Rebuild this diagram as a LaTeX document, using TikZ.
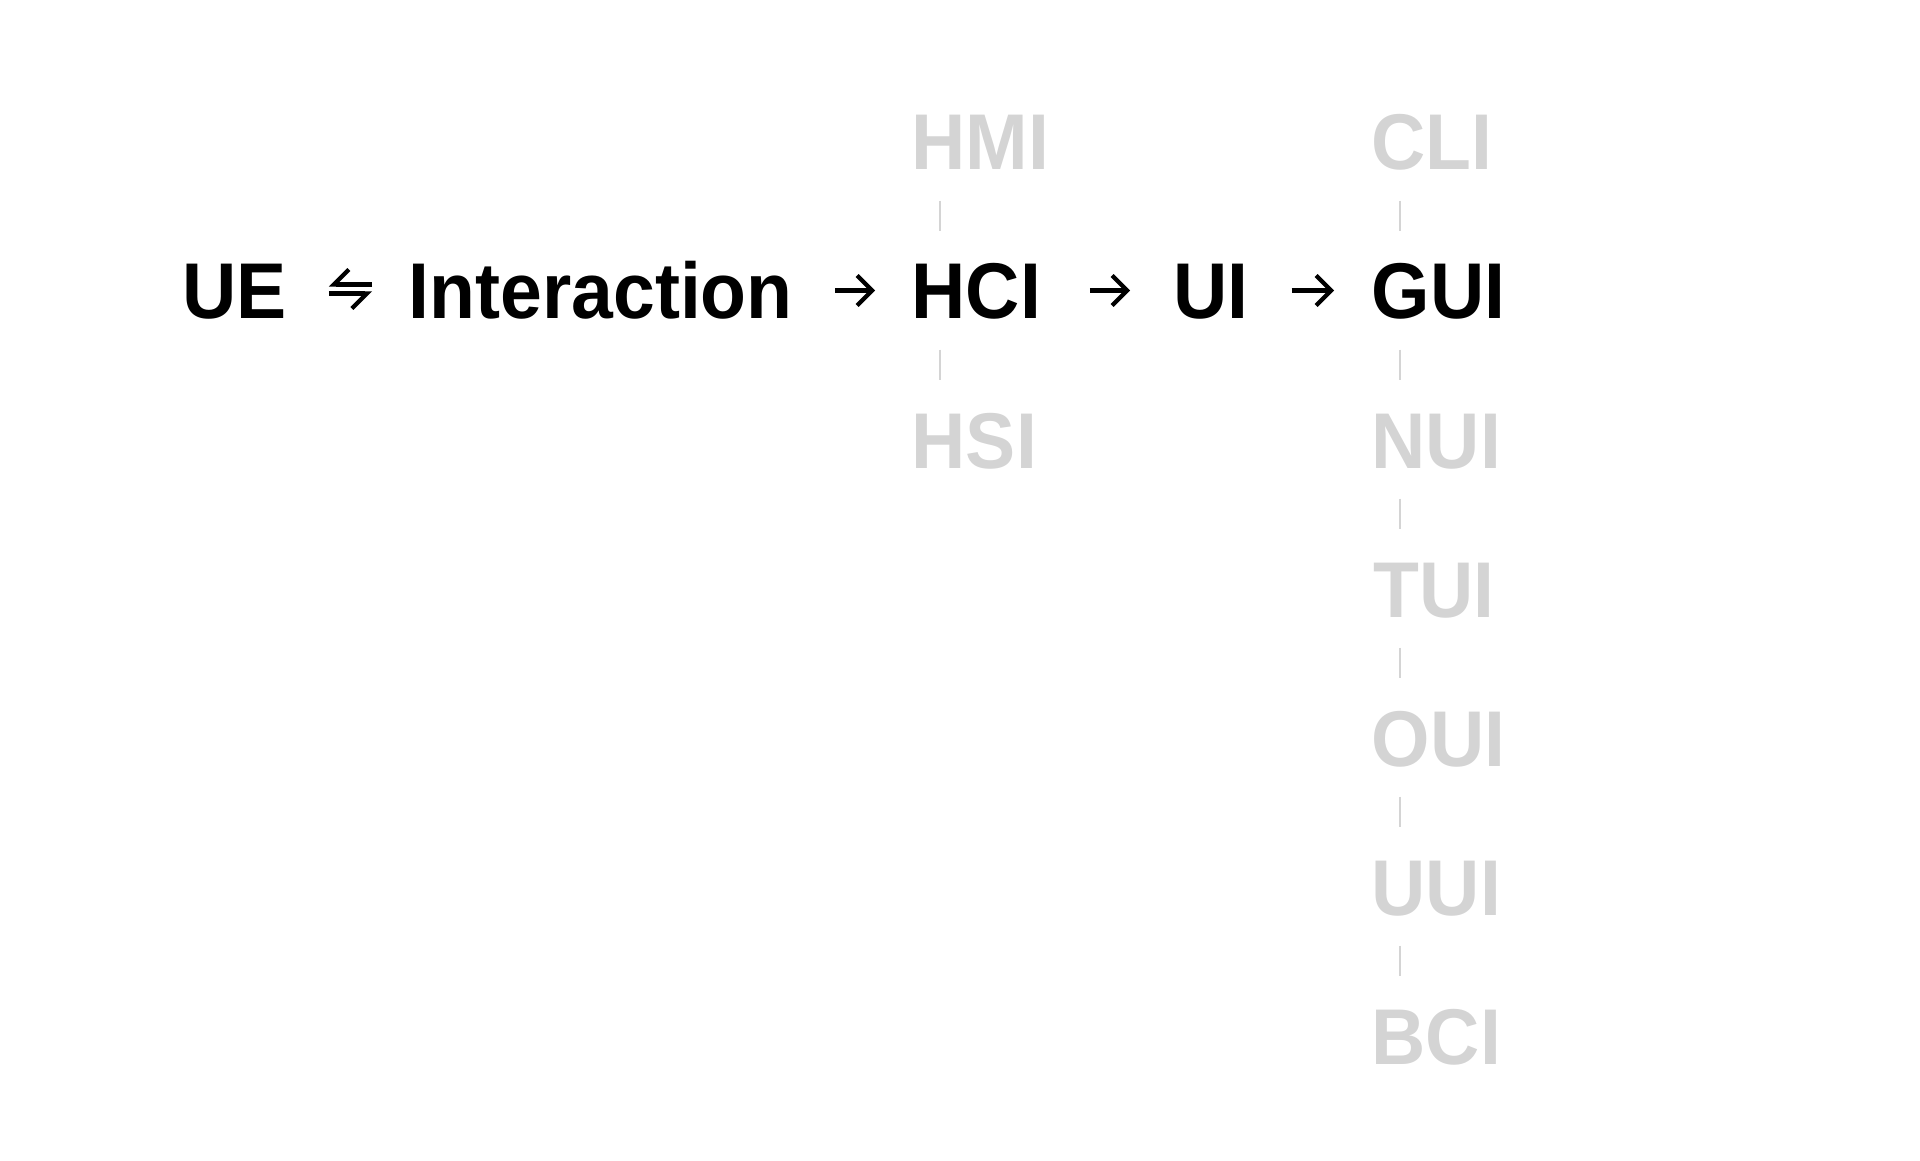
\documentclass[tikz,border=0pt]{standalone}
\usepackage{fontspec}
\setmainfont{Liberation Sans}[FakeStretch=0.95]
\usetikzlibrary{arrows.meta}
\definecolor{faint}{HTML}{D4D4D4}
\tikzset{
  term/.style={anchor=base west, inner sep=0pt, text height=0.57cm, text depth=0cm,
    font=\fontsize{22.5}{27}\selectfont\bfseries},
  side/.style={term, text=faint},
  link/.style={draw=faint, line width=0.7pt, shorten <=0.3cm, shorten >=0.3cm},
  fwd/.style={-{Straight Barb[length=1.5mm,width=3mm]}, line width=1.2pt},
  harp/.style={-{Straight Barb[right,length=1.5mm,width=3mm]}, line width=1.2pt}
}
\begin{document}
\begin{tikzpicture}
\useasboundingbox (0,0) rectangle (19.2,-11.61);
% main chain
\node[term] (UE) at (1.82,-3.19) {UE};
\node[term] (inter) at (4.08,-3.19) {Interaction};
\node[term] (HCI) at (9.11,-3.19) {HCI};
\node[term] (UI) at (11.73,-3.19) {UI};
\node[term] (GUI) at (13.71,-3.19) {GUI};
% neighbours of HCI
\node[side] (HMI) at (9.11,-1.70) {HMI};
\node[side] (HSI) at (9.11,-4.68) {HSI};
% kinds of UI
\node[side] (CLI) at (13.71,-1.70) {CLI};
\node[side] (NUI) at (13.71,-4.68) {NUI};
\node[side] (TUI) at (13.73,-6.17) {TUI};
\node[side] (OUI) at (13.71,-7.66) {OUI};
\node[side] (UUI) at (13.71,-9.15) {UUI};
\node[side] (BCI) at (13.71,-10.64) {BCI};
% arrows
\draw[harp, shorten <=0.36cm, shorten >=0.41cm] ([yshift=0.06cm]inter.west) -- ([yshift=0.06cm]UE.east);
\draw[harp, shorten <=0.41cm, shorten >=0.36cm] ([yshift=-0.03cm]UE.east) -- ([yshift=-0.03cm]inter.west);
\draw[fwd, shorten <=0.42cm, shorten >=0.36cm] (inter) -- (HCI);
\draw[fwd, shorten <=0.48cm, shorten >=0.43cm] (HCI) -- (UI);
\draw[fwd, shorten <=0.42cm, shorten >=0.37cm] (UI) -- (GUI);
% dashes
\draw[link] ([xshift=0.29cm]HMI.south west) -- ([xshift=0.29cm]HCI.north west);
\draw[link] ([xshift=0.29cm]HCI.south west) -- ([xshift=0.29cm]HSI.north west);
\draw[link] ([xshift=0.29cm]CLI.south west) -- ([xshift=0.29cm]GUI.north west);
\draw[link] ([xshift=0.29cm]GUI.south west) -- ([xshift=0.29cm]NUI.north west);
\draw[link] ([xshift=0.29cm]NUI.south west) -- ([xshift=0.27cm]TUI.north west);
\draw[link] ([xshift=0.27cm]TUI.south west) -- ([xshift=0.29cm]OUI.north west);
\draw[link] ([xshift=0.29cm]OUI.south west) -- ([xshift=0.29cm]UUI.north west);
\draw[link] ([xshift=0.29cm]UUI.south west) -- ([xshift=0.29cm]BCI.north west);
\end{tikzpicture}
\end{document}
